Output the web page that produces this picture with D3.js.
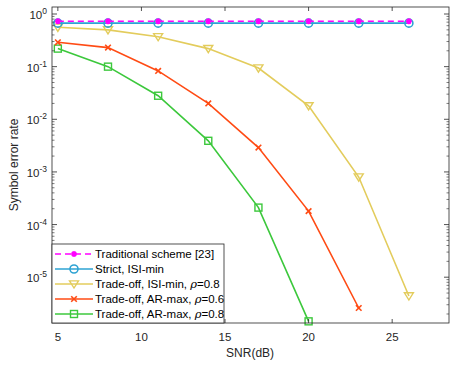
<!DOCTYPE html>
<html>
<head>
<meta charset="utf-8">
<script src="https://cdn.jsdelivr.net/npm/d3@7"></script>
<style>
  body { margin: 0; background: #fff; }
  text { font-family: "Liberation Sans", Arial, sans-serif; }
</style>
</head>
<body>
<svg id="chart" width="450" height="365"></svg>
<script>
// SNR points (dB)
var snr = [5, 8, 11, 14, 17, 20, 23, 26];

// symbol error rate
var traditional = [0.73, 0.73, 0.73, 0.73, 0.73, 0.73, 0.73, 0.73];
var strictIsi = [0.67, 0.67, 0.67, 0.67, 0.67, 0.67, 0.67, 0.67];
var isiMin08 = [0.56, 0.50, 0.37, 0.22, 0.094, 0.018, 8.0e-4, 4.4e-6];
var arMax06 = [0.29, 0.23, 0.083, 0.020, 2.9e-3, 1.8e-4, 2.6e-6];
var arMax08 = [0.22, 0.10, 0.028, 3.9e-3, 2.1e-4, 1.45e-6];

var xTicks = [5, 10, 15, 20, 25];
var yTicks = [1, 1e-1, 1e-2, 1e-3, 1e-4, 1e-5];
var supers = ["0", "-1", "-2", "-3", "-4", "-5"];

var series = [
    {name: "Traditional scheme [23]", vals: traditional, color: "#ff00ff", marker: "star", dash: "6,4"},
    {name: "Strict, ISI-min", vals: strictIsi, color: "#2ea3d3", marker: "circle", dash: null},
    {name: "Trade-off, ISI-min, ", rho: "0.8", vals: isiMin08, color: "#e3cc5c", marker: "tri", dash: null},
    {name: "Trade-off, AR-max, ", rho: "0.6", vals: arMax06, color: "#ff4b14", marker: "x", dash: null},
    {name: "Trade-off, AR-max, ", rho: "0.8", vals: arMax08, color: "#3cc83c", marker: "square", dash: null}
];

var L = 52, R = 449, T = 7, B = 323;
var svg = d3.select("#chart");
var axisColor = "#262626";

var x = d3.scaleLinear().domain([4.65, 28.4]).range([L, R]);
var y = d3.scaleLog().domain([Math.pow(10, -5.87), Math.pow(10, 0.133)]).range([B, T]);

var plot = svg.append("g");

// draw series first (from back to front)
var order = [4, 3, 2, 1, 0];
order.forEach(function (k) {
    var s = series[k];
    var pts = s.vals.map(function (v, i) { return [snr[i], v]; });
    var line = d3.line()
        .x(function (d) { return x(d[0]); })
        .y(function (d) { return y(d[1]); });
    plot.append("path")
        .attr("d", line(pts))
        .attr("fill", "none")
        .attr("stroke", s.color)
        .attr("stroke-width", 1.6)
        .attr("stroke-dasharray", s.dash);
    pts.forEach(function (d) {
        drawMarker(plot, s.marker, x(d[0]), y(d[1]), s.color);
    });
});

function drawMarker(g, type, cx, cy, color) {
    if (type == "circle") {
        g.append("circle").attr("cx", cx).attr("cy", cy).attr("r", 4)
            .attr("fill", "none").attr("stroke", color).attr("stroke-width", 1.6);
    } else if (type == "tri") {
        var h = 4.5;
        g.append("path")
            .attr("d", "M" + (cx - h) + "," + (cy - h * 0.7) + "L" + (cx + h) + "," + (cy - h * 0.7) + "L" + cx + "," + (cy + h * 0.9) + "Z")
            .attr("fill", "none").attr("stroke", color).attr("stroke-width", 1.4);
    } else if (type == "x") {
        var a = 2.8;
        g.append("path")
            .attr("d", "M" + (cx - a) + "," + (cy - a) + "L" + (cx + a) + "," + (cy + a) + "M" + (cx - a) + "," + (cy + a) + "L" + (cx + a) + "," + (cy - a))
            .attr("stroke", color).attr("stroke-width", 1.6);
    } else if (type == "square") {
        g.append("rect").attr("x", cx - 3.5).attr("y", cy - 3.5).attr("width", 7).attr("height", 7)
            .attr("fill", "none").attr("stroke", color).attr("stroke-width", 1.4);
    } else if (type == "star") {
        var r = 3;
        var d = "";
        for (var i = 0; i < 4; i++) {
            var ang = i * Math.PI / 4;
            d += "M" + (cx - r * Math.cos(ang)) + "," + (cy - r * Math.sin(ang)) + "L" + (cx + r * Math.cos(ang)) + "," + (cy + r * Math.sin(ang));
        }
        g.append("path").attr("d", d).attr("stroke", color).attr("stroke-width", 1.6);
    }
}

// axes box
svg.append("rect").attr("x", L).attr("y", T).attr("width", R - L).attr("height", B - T)
    .attr("fill", "none").attr("stroke", axisColor).attr("stroke-width", 0.8);

// x ticks (bottom and top, inward)
xTicks.forEach(function (t) {
    var px = x(t);
    svg.append("line").attr("x1", px).attr("x2", px).attr("y1", B).attr("y2", B - 4).attr("stroke", axisColor).attr("stroke-width", 0.8);
    svg.append("line").attr("x1", px).attr("x2", px).attr("y1", T).attr("y2", T + 4).attr("stroke", axisColor).attr("stroke-width", 0.8);
    svg.append("text").attr("x", px).attr("y", B + 18).attr("text-anchor", "middle")
        .attr("font-size", 11.5).attr("fill", axisColor).text(t);
});

// y ticks major + minor
var minors = [];
for (var e = -6; e <= 0; e++) {
    for (var m = 2; m <= 9; m++) minors.push(m * Math.pow(10, e));
}
minors.forEach(function (v) {
    if (v < y.domain()[0] || v > y.domain()[1]) return;
    var py = y(v);
    svg.append("line").attr("x1", L).attr("x2", L + 2.5).attr("y1", py).attr("y2", py).attr("stroke", axisColor).attr("stroke-width", 0.6);
    svg.append("line").attr("x1", R).attr("x2", R - 2.5).attr("y1", py).attr("y2", py).attr("stroke", axisColor).attr("stroke-width", 0.6);
});
yTicks.forEach(function (v, i) {
    var py = y(v);
    svg.append("line").attr("x1", L).attr("x2", L + 5).attr("y1", py).attr("y2", py).attr("stroke", axisColor).attr("stroke-width", 0.8);
    svg.append("line").attr("x1", R).attr("x2", R - 5).attr("y1", py).attr("y2", py).attr("stroke", axisColor).attr("stroke-width", 0.8);
    var t = svg.append("text").attr("x", L - 5).attr("y", py + 5).attr("text-anchor", "end")
        .attr("font-size", 11.5).attr("fill", axisColor);
    t.append("tspan").text("10");
    t.append("tspan").attr("dy", -5).attr("font-size", 8.5).text(supers[i]);
});

// axis labels
svg.append("text").attr("x", x(16.5)).attr("y", 357).attr("text-anchor", "middle")
    .attr("font-size", 12).attr("fill", axisColor).text("SNR(dB)");
svg.append("text").attr("transform", "translate(18," + ((T + B) / 2) + ") rotate(-90)")
    .attr("text-anchor", "middle").attr("font-size", 12).attr("fill", axisColor).text("Symbol error rate");

// legend
var lg = svg.append("g");
lg.append("rect").attr("x", L).attr("y", 244).attr("width", 172).attr("height", 79)
    .attr("fill", "#fff").attr("stroke", axisColor).attr("stroke-width", 0.8);
series.forEach(function (s, i) {
    var ly = 254 + i * 15;
    lg.append("line").attr("x1", 55).attr("x2", 93).attr("y1", ly).attr("y2", ly)
        .attr("stroke", s.color).attr("stroke-width", 1.6).attr("stroke-dasharray", s.dash);
    drawMarker(lg, s.marker, 74, ly, s.color);
    var t = lg.append("text").attr("x", 95).attr("y", ly + 4).attr("font-size", 11.5).attr("fill", "#000");
    t.append("tspan").text(s.name);
    if (s.rho) {
        t.append("tspan").attr("font-style", "italic").attr("font-family", "DejaVu Serif").text("ρ");
        t.append("tspan").text("=" + s.rho);
    }
});
</script>
</body>
</html>
